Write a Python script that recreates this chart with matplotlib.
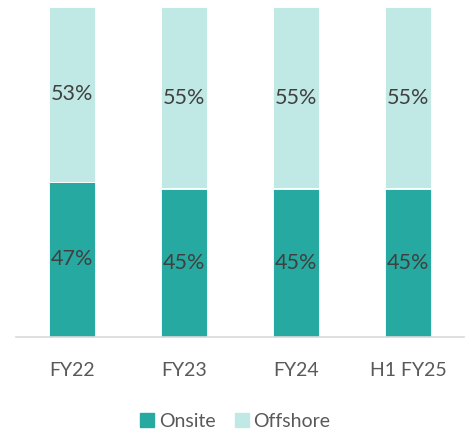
import matplotlib
matplotlib.use("Agg")
import matplotlib.pyplot as plt
from matplotlib.patches import Patch

# data
categories = ["FY22", "FY23", "FY24", "H1 FY25"]
onsite = [47, 45, 45, 45]
offshore = [53, 55, 55, 55]

c_on = "#26A9A0"
c_off = "#C0E9E6"

plt.rcParams['font.family'] = ['Lato', 'DejaVu Sans']

fig = plt.figure(figsize=(4.71, 4.36), dpi=100)
ax = fig.add_axes([16 / 471, 1 - 337 / 436, 448 / 471, 330 / 436])

x = range(len(categories))
w = 0.41
ax.bar(x, onsite, w, color=c_on, edgecolor="white", linewidth=0.6)
ax.bar(x, offshore, w, bottom=onsite, color=c_off, edgecolor="white", linewidth=0.6)

for i in x:
    ax.text(i, onsite[i] / 2, f"{onsite[i]}%", ha="center", va="center",
            fontsize=15.5, color="#404040")
    ax.text(i, onsite[i] + offshore[i] / 2, f"{offshore[i]}%", ha="center",
            va="center", fontsize=15.5, color="#404040")

ax.set_xlim(-0.5, 3.5)
ax.set_ylim(0, 100)
ax.set_xticks(list(x))
ax.set_xticklabels(categories, fontsize=14, color="#595959")
ax.tick_params(axis="x", length=0, pad=18)
ax.set_yticks([])
for s in ["top", "right", "left"]:
    ax.spines[s].set_visible(False)
ax.spines["bottom"].set_color("#D9D9D9")
ax.spines["bottom"].set_linewidth(1.2)

handles = [Patch(color=c_on, label="Onsite"), Patch(color=c_off, label="Offshore")]
fig.legend(handles=handles, loc="center", bbox_to_anchor=(0.5, 1 - 421 / 436),
           ncol=2, frameon=False, fontsize=14, labelcolor="#595959",
           handlelength=0.7, handleheight=0.7, handletextpad=0.25, columnspacing=1.0)

fig.savefig("out.png", dpi=100)
